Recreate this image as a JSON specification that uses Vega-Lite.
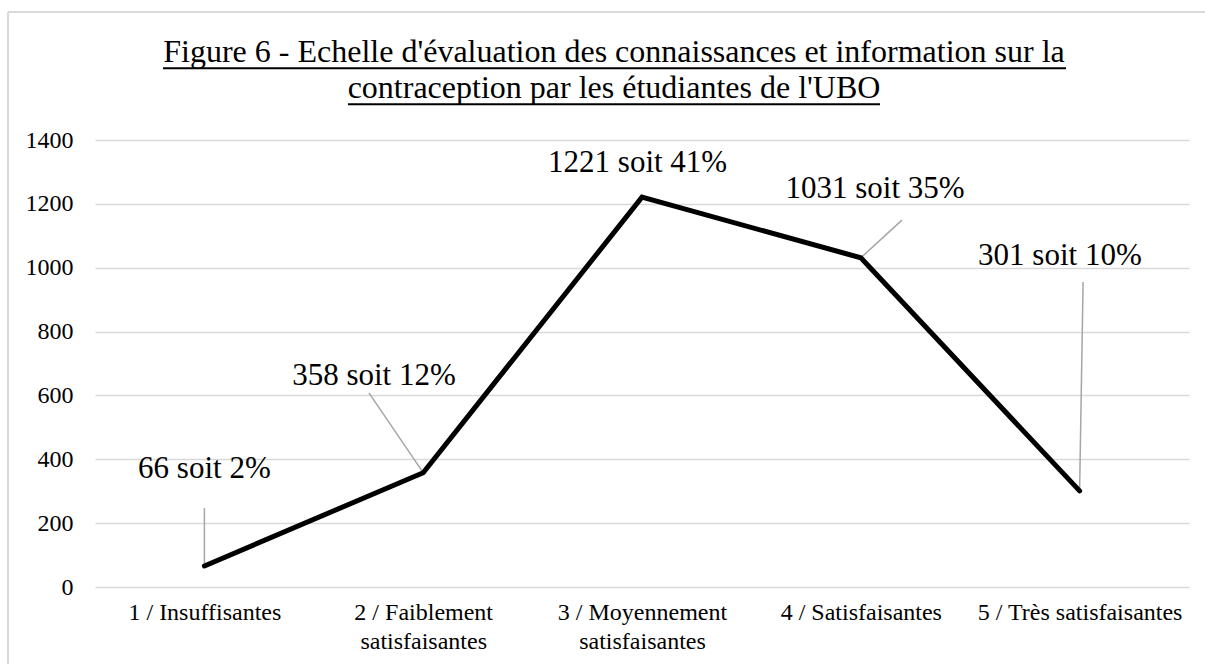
{
  "$schema": "https://vega.github.io/schema/vega-lite/v6.json",
  "width": 1094,
  "height": 447,
  "autosize": {"type": "none"},
  "padding": {"left": 95, "top": 140, "right": 16, "bottom": 77},
  "background": "white",
  "config": {"font": "Liberation Serif", "view": {"stroke": null}},
  "title": {
    "text": ["Figure 6 - Echelle d'évaluation des connaissances et information sur la", "contraception par les étudiantes de l'UBO"],
    "font": "Liberation Serif",
    "fontSize": 32,
    "fontWeight": "normal",
    "color": "black",
    "anchor": "middle",
    "frame": "group",
    "dx": -28,
    "offset": 0,
    "dy": 94,
    "lineHeight": 36
  },
  "data": {
    "values": [
      {"rang": 1, "categorie": "1 / Insuffisantes", "effectif": 66, "etiquette": "66 soit 2%"},
      {"rang": 2, "categorie": "2 / Faiblement satisfaisantes", "effectif": 358, "etiquette": "358 soit 12%"},
      {"rang": 3, "categorie": "3 / Moyennement satisfaisantes", "effectif": 1221, "etiquette": "1221 soit 41%"},
      {"rang": 4, "categorie": "4 / Satisfaisantes", "effectif": 1031, "etiquette": "1031 soit 35%"},
      {"rang": 5, "categorie": "5 / Très satisfaisantes", "effectif": 301, "etiquette": "301 soit 10%"}
    ]
  },
  "encoding": {
    "x": {
      "field": "rang",
      "type": "quantitative",
      "scale": {"domain": [0.5, 5.5], "nice": false, "zero": false},
      "axis": {
        "title": null,
        "values": [1, 2, 3, 4, 5],
        "labelExpr": "datum.value == 1 ? '1 / Insuffisantes' : datum.value == 2 ? ['2 / Faiblement', 'satisfaisantes'] : datum.value == 3 ? ['3 / Moyennement', 'satisfaisantes'] : datum.value == 4 ? '4 / Satisfaisantes' : '5 / Très satisfaisantes'",
        "grid": false,
        "ticks": false,
        "domain": false,
        "labelFont": "Liberation Serif",
        "labelFontSize": 24,
        "labelColor": "black",
        "labelLineHeight": 29,
        "labelPadding": 13,
        "labelLimit": 400,
        "labelFlush": false,
        "labelOverlap": false
      }
    },
    "y": {
      "field": "effectif",
      "type": "quantitative",
      "scale": {"domain": [0, 1400], "nice": false},
      "axis": {
        "title": null,
        "values": [0, 200, 400, 600, 800, 1000, 1200, 1400],
        "format": "d",
        "grid": true,
        "gridColor": "#d9d9d9",
        "gridWidth": 1.5,
        "ticks": false,
        "domain": false,
        "labelFont": "Liberation Serif",
        "labelFontSize": 24,
        "labelColor": "black",
        "labelPadding": 22
      }
    }
  },
  "layer": [
    {
      "transform": [{"filter": "datum.rang == 1"}],
      "mark": {"type": "rule", "color": "#d9d9d9", "strokeWidth": 2},
      "encoding": {"x": {"datum": 0.1024, "type": "quantitative"}, "y": {"datum": 1801, "type": "quantitative"}, "y2": {"datum": -260}}
    },
    {
      "transform": [{"filter": "datum.rang == 1"}],
      "mark": {"type": "rule", "color": "#d9d9d9", "strokeWidth": 2},
      "encoding": {"x": {"datum": 0.1024, "type": "quantitative"}, "x2": {"datum": 5.7}, "y": {"datum": 1801, "type": "quantitative"}}
    },
    {
      "transform": [{"filter": "datum.rang == 1"}],
      "mark": {"type": "rule", "color": "black", "strokeWidth": 2},
      "encoding": {"x": {"datum": 0.8108, "type": "quantitative"}, "x2": {"datum": 4.9378}, "y": {"datum": 1625, "type": "quantitative"}}
    },
    {
      "transform": [{"filter": "datum.rang == 1"}],
      "mark": {"type": "rule", "color": "black", "strokeWidth": 2},
      "encoding": {"x": {"datum": 1.6563, "type": "quantitative"}, "x2": {"datum": 4.0877}, "y": {"datum": 1512, "type": "quantitative"}}
    },
    {
      "transform": [{"filter": "datum.rang == 1"}],
      "mark": {"type": "rule", "color": "#a6a6a6", "strokeWidth": 1.5},
      "encoding": {"x2": {"datum": 1.0}, "y2": {"datum": 247}}
    },
    {
      "transform": [{"filter": "datum.rang == 2"}],
      "mark": {"type": "rule", "color": "#a6a6a6", "strokeWidth": 1.5},
      "encoding": {"x2": {"datum": 1.752}, "y2": {"datum": 608}}
    },
    {
      "transform": [{"filter": "datum.rang == 4"}],
      "mark": {"type": "rule", "color": "#a6a6a6", "strokeWidth": 1.5},
      "encoding": {"x2": {"datum": 4.188}, "y2": {"datum": 1149}}
    },
    {
      "transform": [{"filter": "datum.rang == 5"}],
      "mark": {"type": "rule", "color": "#a6a6a6", "strokeWidth": 1.5},
      "encoding": {"x2": {"datum": 5.016}, "y2": {"datum": 955}}
    },
    {
      "mark": {"type": "line", "color": "black", "strokeWidth": 5, "strokeJoin": "miter", "strokeCap": "round"}
    },
    {
      "transform": [{"filter": "datum.rang == 1"}],
      "mark": {"type": "text", "fontSize": 31, "color": "black", "baseline": "alphabetic", "align": "center"},
      "encoding": {"x": {"datum": 1.0, "type": "quantitative"}, "y": {"datum": 341, "type": "quantitative"}, "text": {"field": "etiquette"}}
    },
    {
      "transform": [{"filter": "datum.rang == 2"}],
      "mark": {"type": "text", "fontSize": 31, "color": "black", "baseline": "alphabetic", "align": "center"},
      "encoding": {"x": {"datum": 1.775, "type": "quantitative"}, "y": {"datum": 633, "type": "quantitative"}, "text": {"field": "etiquette"}}
    },
    {
      "transform": [{"filter": "datum.rang == 3"}],
      "mark": {"type": "text", "fontSize": 31, "color": "black", "baseline": "alphabetic", "align": "center"},
      "encoding": {"x": {"datum": 2.98, "type": "quantitative"}, "y": {"datum": 1300, "type": "quantitative"}, "text": {"field": "etiquette"}}
    },
    {
      "transform": [{"filter": "datum.rang == 4"}],
      "mark": {"type": "text", "fontSize": 31, "color": "black", "baseline": "alphabetic", "align": "center"},
      "encoding": {"x": {"datum": 4.065, "type": "quantitative"}, "y": {"datum": 1218, "type": "quantitative"}, "text": {"field": "etiquette"}}
    },
    {
      "transform": [{"filter": "datum.rang == 5"}],
      "mark": {"type": "text", "fontSize": 31, "color": "black", "baseline": "alphabetic", "align": "center"},
      "encoding": {"x": {"datum": 4.91, "type": "quantitative"}, "y": {"datum": 1008, "type": "quantitative"}, "text": {"field": "etiquette"}}
    }
  ]
}
